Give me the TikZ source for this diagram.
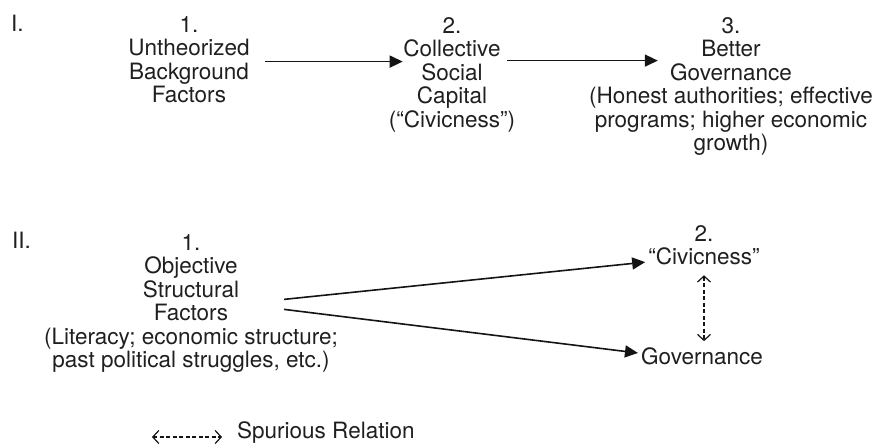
\documentclass[tikz,border=0pt]{standalone}
\usepackage{fontspec}
\setmainfont{TeX Gyre Heros}
\usetikzlibrary{arrows.meta,calc}
\begin{document}
\begin{tikzpicture}[x=1pt,y=-1pt,
  lbl/.style={font=\fontsize{22.5}{23.5}\selectfont, inner sep=0pt, align=center, text=black!88},
  arr/.style={line width=1.6pt, draw=black!92, -{Triangle[length=13pt,width=12pt]}},
  spur/.style={line width=1.2pt, draw=black!92, dash pattern=on 4pt off 2.5pt,
    {Straight Barb[length=6pt,width=13pt,line width=1.2pt]}-{Straight Barb[length=6pt,width=13pt,line width=1.2pt]}}]
\useasboundingbox (0,0) rectangle (878,444);
% Row I
\node[lbl, anchor=west] (r1) at (11,23) {I.};
\node[lbl, anchor=north] (n1) at (189,16) {1.\\Untheorized\\Background\\Factors};
\node[lbl, anchor=north] (n2) at (452,17) {2.\\Collective\\Social\\Capital\\(“Civicness”)};
\node[lbl, anchor=north] (n3) at (731,17) {3.\\Better\\Governance\\(Honest authorities; effective\\programs; higher economic\\growth)};
\draw[arr] ($(n1.east)+(15,2)$) -- ($(n1.east -| n2.west)+(14,2)$);
\draw[arr] ($(n2.east |- n1.east)+(-8,1)$) -- ($(n1.east -| n3.west)+(69,1)$);
% Row II
\node[lbl, anchor=west] (r2) at (12,240) {II.};
\node[lbl, anchor=north] (m1) at (191,234) {1.\\Objective\\Structural\\Factors\\(Literacy; economic structure;\\past political struggles, etc.)};
\node[lbl, anchor=north] (c2) at (704,225) {2.\\“Civicness”};
\node[lbl] (gov) at (702,356) {Governance};
\draw[arr] ($(m1.east)+(-54,-4)$) -- ($(c2.west)+(-3,17)$);
\draw[arr] ($(m1.east)+(-54,6)$) -- ($(gov.west)+(-3,-3)$);
\draw[spur, shorten <=10pt, shorten >=6pt] (c2.south) -- (c2.south |- gov.north);
% Legend
\node[lbl, anchor=west] (leg) at (237,433) {Spurious Relation};
\draw[spur] ($(leg.west)+(-85,4)$) -- ($(leg.west)+(-15,4)$);
\end{tikzpicture}
\end{document}
